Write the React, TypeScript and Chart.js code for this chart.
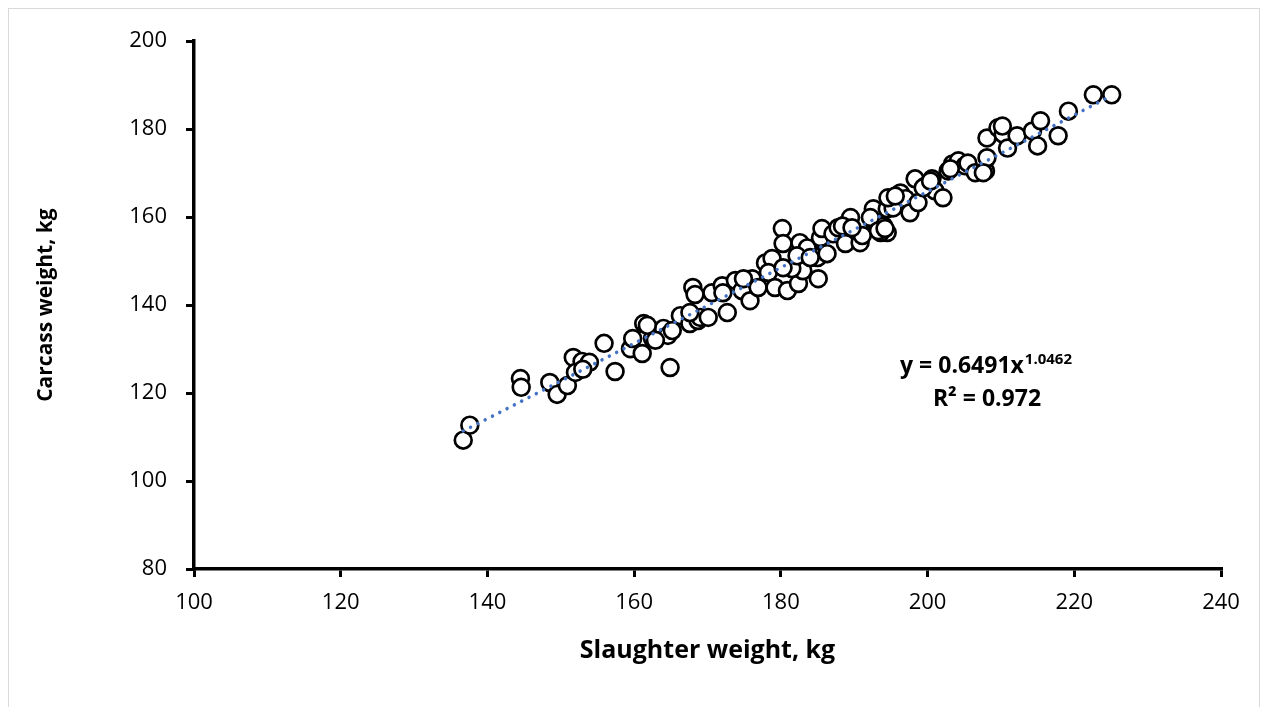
import React, { useEffect, useRef } from "react";
import { Chart, registerables } from "chart.js";

Chart.register(...registerables);

const slaughterWeight = [
  136.7, 137.6, 144.5, 144.6, 148.5, 149.5, 150.9, 151.7, 152.9, 152.0,
  153.9, 153.0, 155.9, 157.4, 159.5, 159.8, 161.3, 161.1, 162.5, 164.0,
  164.6, 164.9, 166.3, 167.6, 168.0, 168.3, 168.7, 169.0, 170.1, 170.6,
  172.0, 172.1, 172.7, 173.8, 174.7, 175.8, 176.1, 176.9, 177.9, 178.8,
  178.3, 179.2, 180.2, 180.3, 180.9, 182.6, 183.6, 182.4, 183.0, 181.5,
  182.2, 185.1, 185.4, 185.6, 185.8, 185.0, 187.1, 187.8, 189.0, 189.5,
  188.8, 190.8, 191.1, 192.6, 192.6, 194.0, 194.5, 193.6, 194.5, 195.3,
  194.6, 196.3, 197.0, 197.6, 198.3, 198.7, 199.7, 200.6, 201.0, 202.1,
  202.8, 203.4, 204.2, 205.1, 205.5, 206.5, 207.9, 208.1, 208.1, 209.6,
  210.3, 210.9, 212.2, 214.3, 215.4, 215.0, 217.8, 219.2, 222.6, 225.1,
  161.8, 162.9, 165.2, 167.6, 174.9, 180.3, 184.0, 186.3, 188.4, 189.7,
  192.2, 193.3, 199.4, 200.4, 203.1, 207.6, 195.6, 194.2, 210.2,
];

const carcassWeight = [
  109.3, 112.7, 123.3, 121.3, 122.4, 119.7, 121.7, 128.1, 127.2, 124.7,
  127.0, 125.4, 131.3, 124.9, 130.1, 132.4, 135.8, 129.0, 132.4, 134.7,
  133.1, 125.8, 137.6, 135.8, 144.0, 142.4, 136.5, 137.2, 137.2, 142.8,
  144.4, 142.8, 138.3, 145.6, 143.3, 141.0, 146.0, 144.0, 149.6, 150.6,
  147.4, 144.0, 157.4, 154.0, 143.3, 154.2, 153.0, 144.9, 147.8, 148.3,
  151.2, 146.0, 155.3, 157.4, 151.7, 150.8, 156.2, 157.6, 158.5, 159.9,
  154.0, 154.2, 155.8, 159.2, 161.9, 158.0, 156.5, 156.5, 161.9, 162.1,
  164.4, 165.5, 164.2, 161.0, 168.7, 163.3, 167.1, 168.7, 166.0, 164.4,
  170.5, 172.1, 172.8, 171.7, 172.3, 170.1, 170.5, 173.5, 178.0, 180.3,
  178.9, 175.7, 178.5, 179.6, 181.9, 176.2, 178.5, 184.1, 187.8, 187.8,
  135.4, 132.0, 134.2, 138.3, 146.0, 148.5, 150.8, 151.7, 158.0, 157.6,
  159.9, 156.9, 166.7, 168.2, 171.0, 170.1, 164.8, 157.4, 180.7,
];

// Power trendline from the chart: y = 0.6491 x^1.0462, R² = 0.972
const TREND_A = 0.6491;
const TREND_B = 1.0462;
const TREND_STEPS = 60;

const xTicks = [100, 120, 140, 160, 180, 200, 220, 240];
const yTicks = [80, 100, 120, 140, 160, 180, 200];

const FONT = "'Open Sans', 'Liberation Sans', sans-serif";

export default function App() {
  const ref = useRef<HTMLCanvasElement | null>(null);

  useEffect(() => {
    if (!ref.current) return;
    const points = slaughterWeight.map((x, i) => ({ x, y: carcassWeight[i] }));
    const xMin = Math.min(...slaughterWeight);
    const xMax = Math.max(...slaughterWeight);
    const trend: { x: number; y: number }[] = [];
    for (let i = 0; i <= TREND_STEPS; i++) {
      const x = xMin + ((xMax - xMin) * i) / TREND_STEPS;
      trend.push({ x, y: TREND_A * Math.pow(x, TREND_B) });
    }

    const equationPlugin = {
      id: "equation",
      afterDatasetsDraw(chart: any) {
        const { ctx, scales } = chart;
        const xs = scales.x;
        const ys = scales.y;
        ctx.save();
        ctx.fillStyle = "#000";
        ctx.textBaseline = "alphabetic";
        const main = "y = " + TREND_A + "x";
        const sup = TREND_B.toFixed(4);
        ctx.font = `bold 23px ${FONT}`;
        const wMain = ctx.measureText(main).width;
        ctx.font = `bold 15px ${FONT}`;
        const wSup = ctx.measureText(sup).width;
        const cx1 = xs.getPixelForValue(207.9);
        const by1 = ys.getPixelForValue(124.5);
        const start1 = cx1 - (wMain + wSup) / 2;
        ctx.font = `bold 23px ${FONT}`;
        ctx.textAlign = "left";
        ctx.fillText(main, start1, by1);
        ctx.font = `bold 15px ${FONT}`;
        ctx.fillText(sup, start1 + wMain + 1, by1 - 9);
        ctx.font = `bold 23px ${FONT}`;
        ctx.textAlign = "center";
        const cx2 = xs.getPixelForValue(208.1);
        const by2 = ys.getPixelForValue(117.0);
        ctx.fillText("R² = 0.972", cx2, by2);
        ctx.restore();
      },
    };

    const chart = new Chart(ref.current, {
      type: "scatter",
      data: {
        datasets: [
          {
            label: "Trend",
            data: trend,
            showLine: true,
            borderColor: "#4472C4",
            borderWidth: 3.5,
            borderDash: [0.01, 8.2],
            borderCapStyle: "round",
            pointRadius: 0,
            pointHoverRadius: 0,
            fill: false,
            order: 0,
          },
          {
            label: "Data",
            data: points,
            pointRadius: 8.4,
            pointHoverRadius: 8.4,
            pointBackgroundColor: "#ffffff",
            pointBorderColor: "#000000",
            pointBorderWidth: 2.7,
            order: 1,
          },
        ],
      },
      options: {
        responsive: false,
        animation: false,
        layout: { padding: { left: 0, right: 38, top: 31, bottom: 0 } },
        plugins: {
          legend: { display: false },
          tooltip: { enabled: false },
        },
        scales: {
          x: {
            type: "linear",
            min: 100,
            max: 240,
            afterBuildTicks: (scale: any) => {
              scale.ticks = xTicks.map((v) => ({ value: v }));
            },
            afterFit: (scale: any) => {
              scale.height = 140;
            },
            border: { display: true, color: "#000", width: 3.5 },
            grid: {
              display: true,
              drawOnChartArea: false,
              drawTicks: true,
              tickLength: 8,
              lineWidth: 3,
              color: "#000",
            },
            ticks: {
              color: "#000",
              padding: 13,
              font: { family: FONT, size: 22 },
              maxRotation: 0,
            },
            title: {
              display: true,
              text: "Slaughter weight, kg",
              color: "#000",
              font: { family: FONT, size: 25, weight: "bold" },
              padding: { top: 0, bottom: 43 },
            },
          },
          y: {
            type: "linear",
            min: 80,
            max: 200,
            afterBuildTicks: (scale: any) => {
              scale.ticks = yTicks.map((v) => ({ value: v }));
            },
            afterFit: (scale: any) => {
              scale.width = 185;
            },
            border: { display: true, color: "#000", width: 3.5 },
            grid: {
              display: true,
              drawOnChartArea: false,
              drawTicks: true,
              tickLength: 8,
              lineWidth: 3,
              color: "#000",
            },
            ticks: {
              color: "#000",
              padding: 19,
              font: { family: FONT, size: 22 },
            },
            title: {
              display: true,
              text: "Carcass weight, kg",
              color: "#000",
              font: { family: FONT, size: 21, weight: "bold" },
              padding: { top: 24, bottom: 0 },
            },
          },
        },
      },
      plugins: [equationPlugin],
    });
    return () => chart.destroy();
  }, []);

  return (
    <div
      style={{
        width: 1250,
        height: 700,
        border: "1px solid #d9d9d9",
        background: "#fff",
      }}
    >
      <canvas ref={ref} width={1250} height={700} style={{ display: "block" }} />
    </div>
  );
}
